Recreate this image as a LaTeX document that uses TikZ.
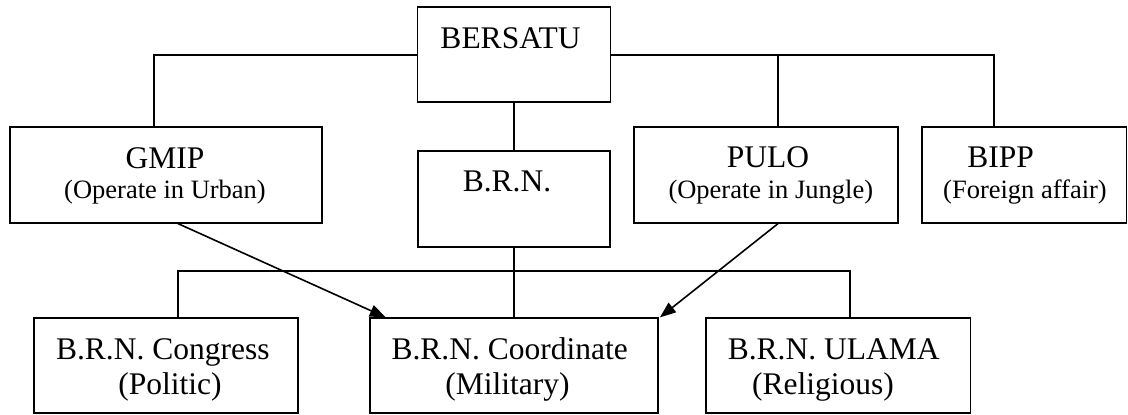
\documentclass[tikz,border=0pt]{standalone}
\usepackage{fontspec}
\setmainfont{Liberation Serif}
\usetikzlibrary{arrows.meta}
\begin{document}
\begin{tikzpicture}[x=1pt,y=-1pt,
  box/.style={draw=black,line width=1.8pt,rectangle,inner sep=0pt,fill=none},
  ttl/.style={inner sep=0pt,anchor=base,font=\fontsize{31.5}{36}\selectfont},
  sub/.style={inner sep=0pt,anchor=base,font=\fontsize{26.5}{30}\selectfont},
  link/.style={line width=1.8pt,line cap=rect},
  arr/.style={line width=1.6pt,-{Triangle[length=16pt,width=12pt]}}]
\useasboundingbox (0,0) rectangle (1128,415);
% boxes
\node[box,minimum width=193pt,minimum height=95pt] (bersatu) at (514,54.8) {};
\node[box,minimum width=312.3pt,minimum height=96pt] (gmip) at (166.2,174.7) {};
\node[box,minimum width=192pt,minimum height=96pt] (brn) at (514,198.7) {};
\node[box,minimum width=264.3pt,minimum height=96pt] (pulo) at (766.2,174.7) {};
\node[box,minimum width=204.5pt,minimum height=96pt] (bipp) at (1024.25,174.7) {};
\node[box,minimum width=264.3pt,minimum height=95pt] (congress) at (166.2,365.8) {};
\node[box,minimum width=288pt,minimum height=95pt] (coord) at (514,365.8) {};
\node[box,minimum width=264.5pt,minimum height=95pt] (ulama) at (838.25,365.8) {};
% texts
\node[ttl] (tBersatu) at (510.5,48) {BERSATU};
\node[ttl] (tGmip) at (165,168.3) {GMIP};
\node[sub] (sGmip) at (165,198.3) {(Operate in Urban)};
\node[ttl] (tBrn) at (507,191.5) {B.R.N.};
\node[ttl] (tPulo) at (768,167.7) {PULO};
\node[sub] (sPulo) at (770.8,198.3) {(Operate in Jungle)};
\node[ttl] (tBipp) at (1000.7,167.7) {BIPP};
\node[sub] (sBipp) at (1025,198.3) {(Foreign affair)};
\node[ttl] (tCongress) at (162.8,359) {B.R.N. Congress};
\node[ttl] (sCongress) at (170,394.5) {(Politic)};
\node[ttl] (tCoord) at (509.7,359) {B.R.N. Coordinate};
\node[ttl] (sCoord) at (507.5,394.5) {(Military)};
\node[ttl] (tUlama) at (833.7,359) {B.R.N. ULAMA};
\node[ttl] (sUlama) at (823,394.5) {(Religious)};
% connectors
\draw[link] (bersatu.west) -| ([xshift=-12.2pt]gmip.north);
\draw[link] (bersatu.east) -| ([xshift=-30.25pt]bipp.north);
\coordinate (jpulo) at ([xshift=11.8pt]pulo.north |- bersatu.east);
\draw[link] (jpulo) -- ([xshift=11.8pt]pulo.north);
\draw[link] (bersatu.south) -- (brn.north);
\draw[link] (brn.south) -- (coord.north);
\coordinate (busL) at ([xshift=11.8pt]congress.north |- 0,271);
\draw[link] ([xshift=11.8pt]congress.north) -- (busL) -| ([xshift=11.75pt]ulama.north);
\draw[arr] ([xshift=11.8pt]gmip.south) -- ([xshift=16.7pt]coord.north west);
\draw[arr] ([xshift=11.8pt]pulo.south) -- ([xshift=1pt]coord.north east);
\end{tikzpicture}
\end{document}
